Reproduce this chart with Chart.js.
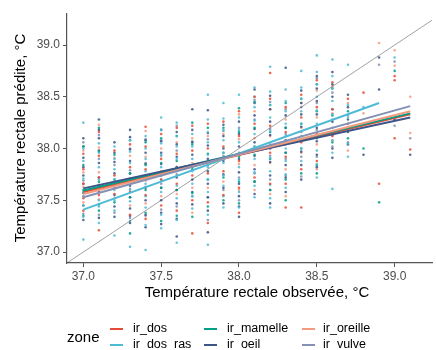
<!DOCTYPE html>
<html>
<head>
<meta charset="utf-8">
<script src="https://cdn.jsdelivr.net/npm/chart.js@4.4.1/dist/chart.umd.min.js"></script>
<style>
  html, body { margin: 0; padding: 0; background: #fff; }
  canvas { display: block; }
</style>
</head>
<body>
<canvas id="chart" width="436" height="350"></canvas>
<script>
// observed rectal temperature strips (x)
const stripX = [37.0, 37.1, 37.2, 37.3, 37.4, 37.5, 37.6, 37.7, 37.8, 37.9, 38.0,
  38.1, 38.2, 38.3, 38.4, 38.5, 38.6, 38.7, 38.8, 38.9, 39.0, 39.1];

const zones = ["ir_dos", "ir_dos_ras", "ir_mamelle", "ir_oeil", "ir_oreille", "ir_vulve"];
const zoneColors = ["#E64B35", "#4DBBD5", "#00A087", "#3C5488", "#F39B7F", "#8491B4"];

// predicted values per strip, one list per zone
const yDos = [
  [37.95, 37.80, 37.66, 37.52, 37.40], [38.16, 37.93, 37.72, 37.55, 37.21], [37.98, 37.74, 37.56],
  [38.04, 37.82, 37.58, 37.36], [38.21, 38.02, 37.80, 37.55, 37.32], [38.14, 37.90, 37.70, 37.45],
  [38.20, 37.95, 37.66, 37.40], [38.22, 37.98, 37.74, 37.50, 37.18], [38.24, 38.00, 37.76, 37.48, 37.28],
  [38.26, 38.02, 37.78, 37.55], [38.36, 38.12, 37.88, 37.62, 37.38], [38.50, 38.24, 37.98, 37.72],
  [38.73, 38.48, 38.22, 37.96, 37.66], [38.40, 38.16, 37.92, 37.66, 37.43], [38.52, 38.30, 38.06, 37.80, 37.43],
  [38.66, 38.40, 38.14, 37.88], [38.64, 38.38, 38.12], [38.48, 38.24], [38.54], [37.66],
  [38.70, 38.66, 38.10], [37.99]
];
const yDosRas = [
  [38.25, 38.00, 37.88, 37.71, 37.58, 37.45, 37.34, 37.12],
  [38.05, 37.96, 37.82, 37.70, 37.62, 37.50, 37.44, 37.28],
  [38.02, 37.90, 37.80, 37.70, 37.60, 37.50, 37.40, 37.16],
  [38.08, 37.97, 37.86, 37.71, 37.60, 37.49, 37.30, 37.05],
  [38.12, 38.00, 37.90, 37.78, 37.66, 37.54, 37.43, 37.26, 37.02],
  [38.30, 38.18, 38.05, 37.94, 37.82, 37.70, 37.58, 37.36, 37.23],
  [38.25, 38.12, 38.02, 37.90, 37.78, 37.64, 37.52, 37.31, 37.09],
  [38.14, 38.02, 37.90, 37.78, 37.66, 37.54, 37.42],
  [38.52, 38.28, 38.16, 38.06, 37.94, 37.82, 37.70, 37.58, 37.36, 37.07],
  [38.44, 38.29, 38.18, 38.08, 37.96, 37.86, 37.74, 37.64, 37.54, 37.43],
  [38.52, 38.30, 38.18, 38.06, 37.94, 37.82, 37.70, 37.58, 37.43],
  [38.59, 38.50, 38.40, 38.27, 38.14, 38.02, 37.90, 37.77, 37.64, 37.53],
  [38.79, 38.55, 38.42, 38.30, 38.17, 38.04, 37.91, 37.78, 37.65, 37.52, 37.43],
  [38.57, 38.46, 38.36, 38.24, 38.12, 38.00, 37.88, 37.75, 37.62],
  [38.75, 38.59, 38.48, 38.36, 38.24, 38.12, 38.00, 37.88],
  [38.90, 38.74, 38.62, 38.50, 38.37, 38.24, 38.11, 37.98, 37.85, 37.72],
  [38.86, 38.70, 38.58, 38.46, 38.33, 38.20, 38.08, 37.96, 37.61],
  [38.81, 38.42, 38.30, 38.18, 38.05, 37.92],
  [38.40], [], [38.88], []
];
const yMamelle = [
  [38.02, 37.84, 37.60, 37.35], [38.20, 37.97, 37.68, 37.40], [37.94, 37.70, 37.48],
  [38.08, 37.76, 37.53, 37.18], [38.06, 37.84, 37.60, 37.38], [38.10, 37.86, 37.62, 37.30],
  [38.12, 37.88, 37.60, 37.35], [38.25, 38.04, 37.80, 37.57, 37.34], [38.20, 37.95, 37.70, 37.44],
  [38.20, 37.96, 37.72, 37.50], [38.39, 38.16, 37.92, 37.68, 37.47], [38.45, 38.20, 37.94, 37.68],
  [38.42, 38.16, 37.90, 37.60], [38.44, 38.20, 37.96, 37.70, 37.50], [38.48, 38.24, 38.00, 37.76],
  [38.62, 38.36, 38.10, 37.84, 37.76], [38.58, 38.32, 38.06], [38.36, 38.10], [38.00], [37.48],
  [38.75], []
];
const yOeil = [
  [38.10, 38.02, 37.91, 37.82, 37.74, 37.66, 37.57, 37.45, 37.31],
  [38.28, 38.18, 38.10, 37.98, 37.86, 37.72, 37.58, 37.46, 37.33],
  [38.06, 37.96, 37.87, 37.76, 37.65, 37.55, 37.44, 37.34],
  [38.18, 38.11, 37.99, 37.88, 37.76, 37.64, 37.53, 37.42, 37.35, 37.28],
  [38.08, 37.96, 37.85, 37.73, 37.62, 37.50, 37.36, 37.24],
  [38.18, 38.07, 37.96, 37.85, 37.74, 37.62, 37.50, 37.38, 37.27],
  [38.16, 38.04, 37.92, 37.82, 37.72, 37.60, 37.47, 37.32, 37.15],
  [38.38, 38.18, 38.06, 37.94, 37.82, 37.70, 37.58, 37.46],
  [38.37, 38.15, 38.03, 37.90, 37.78, 37.66, 37.53, 37.40, 37.19],
  [38.23, 38.12, 38.00, 37.88, 37.75, 37.62, 37.47],
  [38.26, 38.14, 38.02, 37.90, 37.77, 37.66, 37.54, 37.44, 37.34],
  [38.57, 38.44, 38.32, 38.19, 38.06, 37.93, 37.80, 37.68, 37.56],
  [38.51, 38.38, 38.26, 38.13, 38.00, 37.87, 37.74, 37.60, 37.47],
  [38.78, 38.32, 38.20, 38.08, 37.96, 37.84, 37.72, 37.58],
  [38.56, 38.44, 38.33, 38.21, 38.09, 37.97, 37.84, 37.70],
  [38.70, 38.58, 38.46, 38.33, 38.20, 38.07, 37.94, 37.82],
  [38.74, 38.62, 38.50, 38.38, 38.26, 38.13, 38.00, 37.91],
  [38.52, 38.40, 38.28, 38.16, 38.04],
  [37.94], [38.88, 38.57], [38.28], [37.94]
];
const yOreille = [
  [37.98, 37.77, 37.63, 37.48], [38.23, 38.01, 37.77, 37.51], [37.91, 37.67, 37.52],
  [37.93, 37.68, 37.45], [38.17, 37.92, 37.69, 37.47], [38.00, 37.78, 37.54],
  [38.06, 37.82, 37.56], [38.10, 37.86, 37.62, 37.38], [38.12, 37.87, 37.62],
  [38.14, 37.90, 37.68], [38.33, 38.09, 37.85, 37.60], [38.36, 38.10, 37.84, 37.60],
  [38.38, 38.12, 37.86, 37.56], [38.28, 38.04, 37.80, 37.54], [38.44, 38.20, 37.96],
  [38.56, 38.30, 38.04, 37.80], [38.60, 38.34, 38.08], [38.44, 38.20, 37.98], [38.34], [39.02],
  [38.95, 38.80], [38.50, 38.15]
];
const yVulve = [
  [38.06, 37.69, 37.54, 37.37], [38.13, 37.90, 37.65, 37.36], [37.84, 37.62, 37.38],
  [38.00, 37.79, 37.61, 37.33], [38.09, 37.86, 37.63, 37.35], [38.08, 37.93, 37.66, 37.41],
  [38.22, 37.98, 37.75, 37.44], [38.07, 37.83, 37.54], [38.09, 37.84, 37.53, 37.31],
  [38.17, 37.93, 37.60], [38.20, 37.96, 37.72, 37.50], [38.47, 38.28, 38.02, 37.76],
  [38.45, 38.19, 37.93, 37.70], [38.38, 38.14, 37.90, 37.74], [38.40, 38.16, 37.92, 37.73],
  [38.68, 38.44, 38.18, 37.92], [38.54, 38.28, 38.02], [38.32, 38.06], [], [38.81],
  [38.84, 38.22], [38.10]
];
const zoneY = [yDos, yDosRas, yMamelle, yOeil, yOreille, yVulve];

// linear fits per zone: start/end x and y
const fitStartX = [37.0, 37.0, 37.0, 37.0, 37.0, 37.0];
const fitStartY = [37.58, 37.41, 37.595, 37.615, 37.56, 37.53];
const fitEndX = [39.1, 38.9, 39.1, 39.1, 39.1, 39.1];
const fitEndY = [38.33, 38.44, 38.34, 38.30, 38.36, 38.41];

// y = x reference line
const identityLine = [36.8, 39.4];

const xTicks = [37.0, 37.5, 38.0, 38.5, 39.0];
const yTicks = [37.0, 37.5, 38.0, 38.5, 39.0];
const xTitle = "Température rectale observée, °C";
const yTitle = "Température rectale prédite, °C";
const legendTitle = "zone";

const FONT = '"Liberation Sans", Arial, sans-serif';

function hexA(hex, a) {
  const n = parseInt(hex.slice(1), 16);
  return `rgba(${(n >> 16) & 255},${(n >> 8) & 255},${n & 255},${a})`;
}

const datasets = [];

zones.forEach((z, zi) => {
  datasets.push({
    type: "line",
    label: z + " fit",
    data: [{ x: fitStartX[zi], y: fitStartY[zi] }, { x: fitEndX[zi], y: fitEndY[zi] }],
    borderColor: zoneColors[zi],
    borderWidth: 2,
    pointRadius: 0,
    fill: false,
    order: 6 - zi,
  });
});

datasets.push({
  type: "line",
  label: "y=x",
  data: identityLine.map((v) => ({ x: v, y: v })),
  borderColor: "#444",
  borderWidth: 0.5,
  pointRadius: 0,
  fill: false,
  order: 10,
});

zones.forEach((z, zi) => {
  const pts = [];
  zoneY[zi].forEach((ys, si) => ys.forEach((y) => pts.push({ x: stripX[si], y })));
  datasets.push({
    type: "scatter",
    label: z,
    data: pts,
    backgroundColor: hexA(zoneColors[zi], 0.85),
    borderWidth: 0,
    pointRadius: 1.3,
    order: 20 + zi,
  });
});

const decor = {
  id: "decor",
  afterDraw(chart) {
    const { ctx } = chart;
    ctx.save();
    ctx.fillStyle = "#000";
    ctx.textBaseline = "middle";
    ctx.textAlign = "center";
    ctx.font = `15px ${FONT}`;
    ctx.fillText(xTitle, 257, 293);

    ctx.save();
    ctx.translate(21, 138);
    ctx.rotate(-Math.PI / 2);
    ctx.fillText(yTitle, 0, 0);
    ctx.restore();

    // legend
    ctx.textAlign = "left";
    ctx.fillText(legendTitle, 67, 338);
    const colKey = [110, 204, 302];
    const colText = [133, 227, 323];
    const rowY = [329, 345];
    ctx.font = `12.5px ${FONT}`;
    zones.forEach((z, zi) => {
      const col = Math.floor(zi / 2);
      const row = zi % 2;
      const y = rowY[row];
      ctx.strokeStyle = zoneColors[zi];
      ctx.lineWidth = 2;
      ctx.beginPath();
      ctx.moveTo(colKey[col], y);
      ctx.lineTo(colKey[col] + 13, y);
      ctx.stroke();
      ctx.fillStyle = "#000";
      ctx.fillText(z, colText[col], y);
    });
    ctx.restore();
  },
};

const axisCommon = {
  type: "linear",
  grid: {
    display: true,
    drawOnChartArea: false,
    drawTicks: true,
    tickLength: 4,
    tickColor: "#555",
    tickWidth: 1,
  },
  border: { display: true, color: "#555", width: 1.2 },
};

new Chart(document.getElementById("chart"), {
  type: "scatter",
  data: { datasets },
  plugins: [decor],
  options: {
    responsive: false,
    animation: false,
    events: [],
    layout: { padding: { top: 14, right: 0, left: 0, bottom: 0 } },
    plugins: { legend: { display: false }, tooltip: { enabled: false } },
    scales: {
      x: {
        ...axisCommon,
        min: 36.895,
        max: 39.24,
        afterBuildTicks: (s) => { s.ticks = xTicks.map((v) => ({ value: v })); },
        afterFit: (s) => { s.height = 87; },
        ticks: {
          color: "#4D4D4D",
          padding: 2,
          maxRotation: 0,
          font: { family: FONT, size: 12 },
          callback: (v) => Number(v).toFixed(1),
        },
      },
      y: {
        ...axisCommon,
        min: 36.894,
        max: 39.3,
        afterBuildTicks: (s) => { s.ticks = yTicks.map((v) => ({ value: v })); },
        afterFit: (s) => { s.width = 67; },
        ticks: {
          color: "#4D4D4D",
          padding: 3,
          font: { family: FONT, size: 12 },
          callback: (v) => Number(v).toFixed(1),
        },
      },
    },
  },
});
</script>
</body>
</html>
